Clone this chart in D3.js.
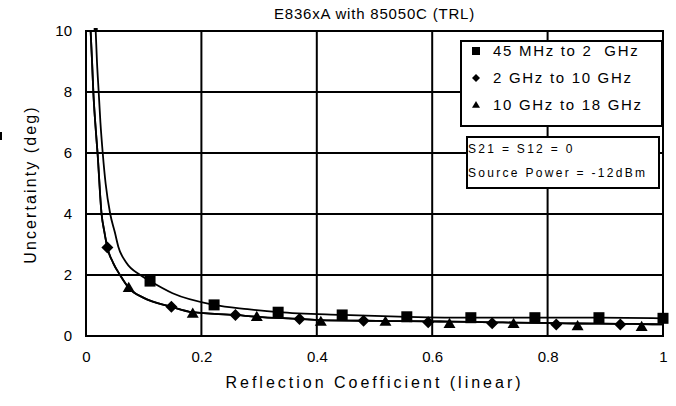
<!DOCTYPE html>
<html><head><meta charset="utf-8">
<script src="https://cdn.jsdelivr.net/npm/d3@7/dist/d3.min.js"></script>
<style>
html,body{margin:0;padding:0;background:#fff;}
svg{display:block;}
text{font-family:"Liberation Sans",Arial,sans-serif;fill:#000;}
</style></head>
<body>
<svg id="c" width="676" height="406"></svg>
<script>
// ---- data ----
const chartTitle = "E836xA with 85050C (TRL)";
const xTitle = "Reflection Coefficient (linear)";
const yTitle = "Uncertainty (deg)";
const xTicks = [0, 0.2, 0.4, 0.6, 0.8, 1];
const xTickLabels = ["0", "0.2", "0.4", "0.6", "0.8", "1"];
const yTicks = [0, 2, 4, 6, 8, 10];
const yTickLabels = ["0", "2", "4", "6", "8", "10"];
const seriesNames = ["45 MHz to 2  GHz", "2 GHz to 10 GHz", "10 GHz to 18 GHz"];
const noteLines = ["S21 = S12 = 0", "Source Power = -12dBm"];

// 45 MHz to 2 GHz (line + square markers)
const line1X = [0.0168, 0.019, 0.022, 0.025, 0.029, 0.034, 0.042, 0.05, 0.056, 0.07, 0.094, 0.111, 0.15, 0.222, 0.28, 0.333, 0.444, 0.556, 0.667, 0.778, 0.889, 1.0];
const line1Y = [10, 9.0, 8.0, 7.0, 6.0, 5.0, 4.0, 3.4, 2.93, 2.4, 2.0, 1.8, 1.4, 1.02, 0.88, 0.78, 0.69, 0.63, 0.60, 0.60, 0.60, 0.58];
const mark1X = [0.111, 0.222, 0.333, 0.444, 0.556, 0.667, 0.778, 0.889, 1.0];
const mark1Y = [1.80, 1.02, 0.78, 0.69, 0.63, 0.60, 0.60, 0.60, 0.58];

// 2 GHz to 10 GHz (line + diamond markers)
const line2X = [0.008, 0.0105, 0.0127, 0.016, 0.02, 0.027, 0.032, 0.037, 0.047, 0.059, 0.074, 0.1, 0.148, 0.185, 0.259, 0.296, 0.37, 0.407, 0.481, 0.519, 0.593, 0.63, 0.704, 0.741, 0.815, 0.852, 0.926, 0.963, 1.0];
const line2Y = [10, 9.0, 8.0, 7.0, 6.0, 4.0, 3.4, 2.9, 2.4, 2.0, 1.58, 1.25, 0.96, 0.78, 0.69, 0.63, 0.56, 0.52, 0.50, 0.49, 0.48, 0.47, 0.45, 0.44, 0.42, 0.41, 0.40, 0.39, 0.38];
const mark2X = [0.037, 0.148, 0.259, 0.370, 0.481, 0.593, 0.704, 0.815, 0.926];
const mark2Y = [2.90, 0.96, 0.69, 0.56, 0.50, 0.45, 0.42, 0.38, 0.38];

// 10 GHz to 18 GHz (line + triangle markers) – its curve coincides with the 2-10 GHz one
const line3X = line2X;
const line3Y = line2Y;
const mark3X = [0.074, 0.185, 0.296, 0.407, 0.519, 0.630, 0.741, 0.852, 0.963];
const mark3Y = [1.58, 0.74, 0.63, 0.47, 0.47, 0.40, 0.40, 0.33, 0.30];

// ---- drawing ----
const svg = d3.select("#c");
const L = 86, R = 663, T = 31, B = 336;
const x = d3.scaleLinear().domain([0, 1]).range([L, R]);
const y = d3.scaleLinear().domain([0, 10]).range([B, T]);

svg.append("defs").append("clipPath").attr("id", "clip")
  .append("rect").attr("x", L).attr("y", T - 2).attr("width", R - L).attr("height", B - T + 2);

// tiny page artefact at left edge
svg.append("rect").attr("x", 0).attr("y", 132).attr("width", 2).attr("height", 8).attr("fill", "#000");

// grid
const g = svg.append("g");
g.selectAll("line.vx").data(xTicks).join("line")
  .attr("x1", d => x(d)).attr("x2", d => x(d)).attr("y1", T).attr("y2", B)
  .attr("stroke", "#000").attr("stroke-width", 2);
g.selectAll("line.hy").data(yTicks).join("line")
  .attr("x1", L).attr("x2", R).attr("y1", d => y(d)).attr("y2", d => y(d))
  .attr("stroke", "#000").attr("stroke-width", 2);
g.append("rect").attr("x", L).attr("y", T).attr("width", R - L).attr("height", B - T)
  .attr("fill", "none").attr("stroke", "#000").attr("stroke-width", 2);

// axes labels via d3 axes (text only)
const xAxis = d3.axisBottom(x).tickValues(xTicks).tickFormat((d, i) => xTickLabels[i]).tickSize(0).tickPadding(0);
const xa = svg.append("g").attr("transform", `translate(0,${B + 15})`).call(xAxis);
xa.select(".domain").remove();
xa.selectAll("text").attr("font-size", 15).attr("font-family", "Liberation Sans, Arial, sans-serif").attr("dy", "0.71em").attr("fill", "#000");

const yAxis = d3.axisLeft(y).tickValues(yTicks).tickFormat((d, i) => yTickLabels[i]).tickSize(0).tickPadding(0);
const ya = svg.append("g").attr("transform", `translate(${L - 14},0)`).call(yAxis);
ya.select(".domain").remove();
ya.selectAll("text").attr("font-size", 15).attr("font-family", "Liberation Sans, Arial, sans-serif").attr("fill", "#000");

svg.append("text").attr("x", (L + R) / 2).attr("y", 19).attr("text-anchor", "middle")
  .attr("font-size", 15).attr("letter-spacing", 0.8).text(chartTitle);
svg.append("text").attr("x", (L + R) / 2).attr("y", 388).attr("text-anchor", "middle")
  .attr("font-size", 16).attr("letter-spacing", 3.0).text(xTitle);
svg.append("text").attr("transform", `translate(36,${(T + B) / 2 + 1}) rotate(-90)`).attr("text-anchor", "middle")
  .attr("font-size", 16).attr("letter-spacing", 2.1).text(yTitle);

// curves
const plot = svg.append("g").attr("clip-path", "url(#clip)");
const lineGen = d3.line().x(d => x(d[0])).y(d => y(d[1])).curve(d3.curveMonotoneX);
const lines = [[line1X, line1Y], [line2X, line2Y], [line3X, line3Y]];
lines.forEach(([xs, ys]) => {
  plot.append("path").datum(xs.map((v, i) => [v, ys[i]]))
    .attr("d", lineGen).attr("fill", "none").attr("stroke", "#000").attr("stroke-width", 1.8);
});

// top marker at start of 45 MHz curve
svg.append("rect").attr("x", x(line1X[0]) - 2).attr("y", y(line1Y[0]) - 3).attr("width", 4).attr("height", 4).attr("fill", "#000");

const sq = 11, dm = 6, tr = 6;
function square(sel, cx, cy, s) { sel.append("rect").attr("x", cx - s / 2).attr("y", cy - s / 2).attr("width", s).attr("height", s).attr("fill", "#000"); }
function diamond(sel, cx, cy, r) { sel.append("path").attr("d", `M${cx},${cy - r}L${cx + r},${cy}L${cx},${cy + r}L${cx - r},${cy}Z`).attr("fill", "#000"); }
function triangle(sel, cx, cy, r) { sel.append("path").attr("d", `M${cx},${cy - r}L${cx + r},${cy + r * 0.7}L${cx - r},${cy + r * 0.7}Z`).attr("fill", "#000"); }

mark1X.forEach((v, i) => square(svg, x(v), y(mark1Y[i]), sq));
mark2X.forEach((v, i) => diamond(svg, x(v), y(mark2Y[i]), dm));
mark3X.forEach((v, i) => triangle(svg, x(v), y(mark3Y[i]), tr));

// legend
const lg = svg.append("g");
lg.append("rect").attr("x", 461).attr("y", 41).attr("width", 201).attr("height", 85)
  .attr("fill", "#fff").attr("stroke", "#000").attr("stroke-width", 2);
const rowsY = [51, 78, 105];
square(lg, 476, rowsY[0], 8);
diamond(lg, 476, rowsY[1], 4);
triangle(lg, 476, rowsY[2], 4);
seriesNames.forEach((n, i) => {
  lg.append("text").attr("x", 493).attr("y", rowsY[i]).attr("dy", "0.36em")
    .attr("font-size", 15).attr("letter-spacing", 1.7).attr("xml:space", "preserve").style("white-space", "pre").text(n);
});

// note box
const nb = svg.append("g");
nb.append("rect").attr("x", 467).attr("y", 137).attr("width", 192).attr("height", 51)
  .attr("fill", "#fff").attr("stroke", "#000").attr("stroke-width", 2);
noteLines.forEach((t, i) => {
  nb.append("text").attr("x", 468).attr("y", [149, 173][i]).attr("dy", "0.36em")
    .attr("font-size", 12).attr("letter-spacing", 2.3).text(t);
});
</script>
</body></html>
